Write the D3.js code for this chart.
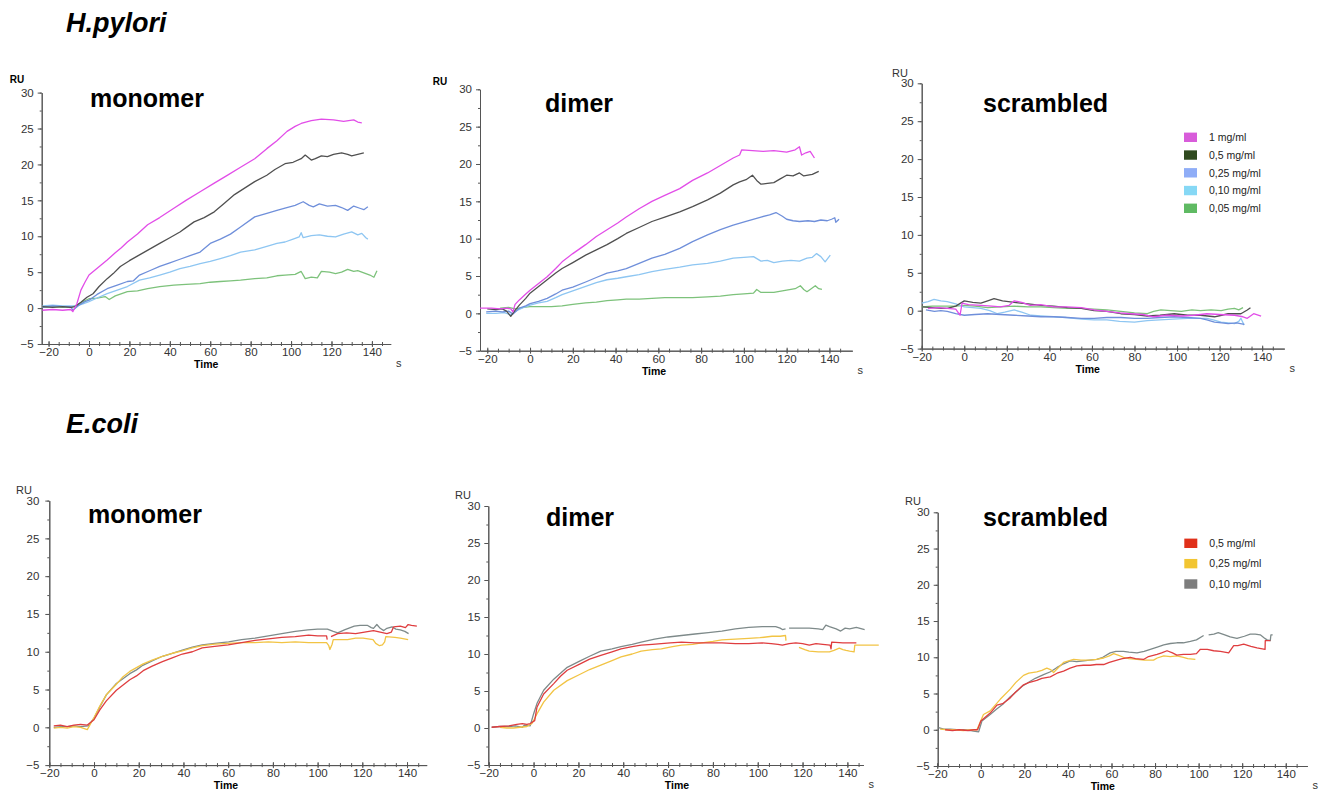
<!DOCTYPE html>
<html>
<head>
<meta charset="utf-8">
<script src="https://cdn.jsdelivr.net/npm/d3@7"></script>
<style>
  body { margin: 0; background: #fff; }
  svg { display: block; font-family: "Liberation Sans", Arial, sans-serif; }
  .axis path, .axis line { stroke: #555; }
  .axis text { fill: #333; font-size: 11.5px; font-family: "Liberation Sans", Arial, sans-serif; }
  .curve { fill: none; stroke-width: 1.3; stroke-linejoin: round; }
</style>
</head>
<body>
<svg width="1323" height="793"></svg>
<script>
/* SPR sensorgrams, RU vs time (s) */

// H.pylori concentrations
const hpLabels = ['1 mg/ml', '0,5 mg/ml', '0,25 mg/ml', '0,10 mg/ml', '0,05 mg/ml'];
// E.coli concentrations
const ecLabels = ['0,5 mg/ml', '0,25 mg/ml', '0,10 mg/ml'];

const xMajor = [-20, 0, 20, 40, 60, 80, 100, 120, 140];
const yMajor = [-5, 0, 5, 10, 15, 20, 25, 30];

// ---- H.pylori monomer ----
const hpMono1 = [[-23,-0.3],[-18,-0.2],[-13,-0.3],[-9,-0.2],[-8,-0.5],[-6,0.6],[-4,2.5],[-2,3.6],[0,4.6],[3,5.3],[6,6.0],[9,6.7],[13,7.7],[16,8.4],[19,9.2],[24,10.3],[29,11.6],[35,12.6],[42,13.9],[48,15.0],[55,16.2],[62,17.4],[68,18.4],[75,19.6],[82,20.8],[88,22.2],[93,23.3],[98,24.6],[102,25.3],[105,25.7],[110,26.1],[115,26.3],[121,26.2],[126,26.0],[131,26.2],[133,25.9],[135,25.8]];
const hpMono05 = [[-23,0.2],[-18,0.1],[-13,0.2],[-9,0.1],[-7,0.2],[-4,0.8],[-1,1.5],[2,2.0],[5,3.0],[9,4.1],[12,4.8],[15.5,5.8],[20,6.6],[25,7.4],[30,8.2],[35,9.0],[40,9.8],[45,10.6],[48,11.2],[52,12.0],[57,12.6],[62,13.4],[67,14.6],[72,15.8],[77,16.7],[82,17.6],[88,18.5],[92,19.3],[97,20.1],[101,20.3],[105,20.8],[107,21.3],[110,20.6],[112,20.8],[115,21.2],[118,21.1],[121,21.4],[125,21.6],[128,21.4],[130,21.2],[133,21.4],[136,21.6]];
const hpMono025 = [[-23,0.1],[-18,0.3],[-13,0.2],[-9,0.2],[-8,-0.3],[-5,0.4],[-2,0.9],[0,1.1],[4,1.9],[9,2.7],[14,3.2],[19,3.7],[22,3.8],[25,4.6],[30,5.2],[35,5.8],[40,6.3],[45,6.8],[50,7.3],[55,7.8],[60,9.0],[65,9.6],[70,10.3],[75,11.3],[82,12.7],[88,13.2],[93,13.6],[97,13.9],[102,14.3],[106,14.8],[109,14.3],[111,14.1],[114,14.5],[118,14.2],[122,14.3],[125,14.0],[128,13.6],[131,14.2],[134,13.9],[136,13.7],[138,14.1]];
const hpMono010 = [[-23,0.3],[-18,0.4],[-13,0.3],[-9,0.3],[-6,0.3],[-3,0.6],[0,0.9],[4,1.4],[9,2.0],[14,2.5],[19,3.0],[25,3.9],[30,4.2],[35,4.6],[40,5.0],[45,5.5],[50,5.8],[55,6.2],[60,6.5],[65,6.9],[70,7.3],[75,7.8],[82,8.1],[88,8.6],[93,9.0],[97,9.2],[101,9.6],[104,9.9],[105,10.5],[106,9.8],[110,10.1],[114,10.2],[118,10.0],[122,9.9],[126,10.3],[130,10.6],[133,10.2],[135,10.4],[137,9.8],[138,9.6]];
const hpMono005 = [[-23,0.1],[-18,0.2],[-13,0.1],[-9,0.1],[-6,0.4],[-3,0.9],[0,1.3],[4,1.4],[8,1.6],[10,1.2],[13,1.7],[19,2.3],[24,2.4],[29,2.7],[35,3.0],[42,3.2],[48,3.3],[55,3.4],[60,3.6],[65,3.7],[70,3.8],[75,3.9],[82,4.1],[88,4.2],[93,4.5],[97,4.6],[102,4.7],[105,5.1],[107,4.1],[110,4.3],[113,4.2],[115,5.1],[119,5.0],[122,4.8],[125,5.0],[128,5.4],[131,5.1],[133,5.2],[136,4.9],[139,4.6],[141,4.3],[142.5,5.2]];

// ---- H.pylori dimer ----
const hpDim1 = [[-23.4,0.7],[-18,0.7],[-14,0.6],[-11,0.7],[-9,0.6],[-8,0.2],[-7,1.2],[-5,1.8],[-2,2.6],[0,3.1],[4,4.0],[8,4.9],[12,6.0],[15,6.9],[20,8.0],[26,9.2],[31,10.3],[36,11.2],[41,12.1],[45,12.9],[51,14.0],[57,15.0],[63,15.8],[70,16.7],[76,17.8],[83,18.8],[89,19.8],[95,20.8],[98,21.2],[99,21.9],[104,21.8],[109,21.7],[114,21.8],[120,21.6],[124,21.9],[126,22.3],[127,21.2],[129,21.5],[131,21.7],[133,20.8]];
const hpDim05 = [[-20,0.6],[-16,0.5],[-13,0.6],[-11,0.3],[-9,-0.4],[-7,0.4],[-5,1.1],[-2,2.0],[0,2.7],[4,3.6],[8,4.5],[12,5.4],[15,6.0],[20,6.8],[26,7.8],[31,8.5],[36,9.2],[41,10.0],[45,10.7],[51,11.5],[57,12.3],[63,12.9],[70,13.6],[76,14.3],[83,15.2],[89,16.1],[95,17.2],[98,17.6],[101,17.9],[104,18.5],[106,17.8],[108,17.3],[111,17.4],[114,17.5],[117,18.0],[120,18.5],[123,18.4],[126,18.8],[128,18.4],[130,18.5],[132,18.6],[135,19.0]];
const hpDim025 = [[-20.5,0.2],[-16,0.3],[-13,0.2],[-10,0.3],[-8,-0.1],[-5,0.7],[-2,1.0],[0,1.3],[4,1.6],[8,2.0],[12,2.6],[15,3.1],[20,3.5],[26,4.2],[31,4.8],[36,5.4],[41,5.7],[45,6.0],[51,6.7],[57,7.4],[63,7.9],[70,8.7],[76,9.6],[83,10.5],[89,11.2],[95,11.8],[101,12.3],[108,12.9],[112,13.2],[115,13.5],[118,13.0],[120,12.6],[123,12.4],[126,12.3],[130,12.4],[133,12.3],[136,12.5],[139,12.4],[141,12.6],[142.5,12.8],[143,12.2],[144.5,12.6]];
const hpDim010 = [[-20.5,0.0],[-16,0.0],[-12,0.1],[-9,-0.2],[-6,0.4],[-3,0.8],[0,1.1],[4,1.4],[8,1.6],[12,2.1],[15,2.5],[20,3.0],[26,3.6],[31,4.1],[36,4.5],[41,4.7],[45,4.9],[51,5.2],[57,5.6],[63,5.9],[70,6.2],[76,6.5],[83,6.7],[89,7.0],[95,7.4],[100,7.5],[104.5,7.6],[108,7.0],[111,7.1],[114,6.8],[118,7.0],[122,7.1],[126,7.0],[129.5,7.4],[132,7.5],[134,8.0],[136,7.6],[138,6.9],[140.4,7.8]];
const hpDim005 = [[-14,0.7],[-10,0.8],[-7,0.6],[-3,0.8],[0,0.9],[5,0.9],[10,0.9],[15,1.0],[20,1.2],[26,1.4],[31,1.5],[36,1.7],[41,1.8],[45,1.9],[51,1.9],[57,2.0],[63,2.1],[70,2.1],[76,2.1],[83,2.2],[89,2.3],[95,2.5],[100,2.6],[104.5,2.7],[106,3.2],[108,2.8],[114,2.8],[120,3.1],[124,3.3],[126.4,3.7],[128,3.2],[129.5,2.9],[131,3.2],[133.4,3.7],[135,3.3],[136.5,3.2]];

// ---- H.pylori scrambled ----
const hpScr1 = [[-17,0.3],[-12,0.4],[-8,0.3],[-4,0.2],[-2,-0.6],[-1,1.0],[2,0.8],[7.8,0.7],[13,0.6],[17,0.5],[21,0.7],[23.5,1.3],[27,1.1],[31,0.7],[36,0.8],[42,0.5],[48,0.5],[55,0.4],[61,0.1],[67,-0.1],[73,-0.3],[78,-0.4],[84,-0.5],[89,-0.8],[95,-0.6],[102,-0.7],[108,-0.6],[114,-0.4],[120,-0.5],[127,-0.6],[131,-0.8],[133,-1.0],[136,-0.4],[139.5,-0.7]];
const hpScr05 = [[-19.7,0.5],[-15,0.4],[-11,0.3],[-8,0.3],[-4,0.6],[0,1.3],[4,1.1],[7.8,1.0],[11,1.3],[14,1.6],[18,1.3],[23.5,1.1],[30,0.9],[36,0.7],[42,0.6],[48.5,0.4],[55,0.3],[61,0.0],[67,-0.1],[73.6,-0.4],[80,-0.5],[86,-0.7],[92,-0.6],[98.7,-0.4],[105,-0.6],[111,-0.6],[117.6,-0.8],[121,-0.6],[124,-0.4],[130,-0.4],[133,0.1],[134.5,0.4]];
const hpScr025 = [[-18,0.1],[-14,-0.1],[-11,0.0],[-8,-0.1],[-4,-0.4],[0,-0.6],[5,-0.5],[11,-0.4],[17,-0.5],[23.5,-0.6],[30,-0.7],[36,-0.8],[42,-0.8],[48.5,-0.9],[55,-1.0],[61,-1.0],[67,-0.9],[73.6,-0.9],[80,-1.0],[86,-1.0],[92,-0.9],[98.7,-0.8],[105,-0.9],[111,-1.0],[114,-1.2],[117.6,-1.5],[121,-1.6],[124,-1.7],[128,-1.6],[131.6,-1.8]];
const hpScr010 = [[-20,1.0],[-17,1.2],[-14.2,1.5],[-11,1.3],[-8,1.2],[-4,0.9],[0,0.5],[4,0.4],[7.8,0.3],[12,0.0],[15.6,-0.4],[19,-0.2],[23.5,0.1],[27,-0.2],[31.3,-0.6],[36,-0.7],[42,-0.8],[48,-0.9],[55,-1.1],[61,-1.2],[67,-1.2],[73,-1.4],[80,-1.5],[86,-1.3],[92,-1.2],[98,-1.1],[105,-1.0],[110,-1.0],[114,-1.0],[117,-1.2],[120.7,-1.5],[124,-1.6],[127,-1.7],[129,-1.4],[130,-1.0],[131.5,-1.9]];
const hpScr005 = [[-20,0.5],[-15,0.6],[-8,0.6],[-4,0.6],[0,0.7],[5,0.6],[11,0.4],[17,0.5],[23.5,0.6],[30,0.5],[36,0.5],[42,0.4],[48.5,0.3],[55,0.3],[61,0.2],[67,0.1],[73.6,-0.1],[80,-0.3],[86,-0.4],[89,-0.1],[92.4,0.1],[97,0.0],[102,-0.1],[107,0.1],[111,0.0],[116,0.1],[120.7,0.0],[124,0.2],[127,0.3],[129,0.1],[131,0.4]];

// ---- E.coli monomer ----
const ecMono05 = [[-18,0.2],[-15,0.3],[-12,0.1],[-9,0.3],[-6,0.4],[-3,0.3],[0,1.0],[2.6,2.3],[5.5,3.5],[10,4.9],[16,6.3],[19,6.8],[22,7.5],[26,8.1],[30.6,8.7],[35,9.2],[39.5,9.7],[44,10.0],[48.4,10.5],[54,10.7],[60,10.9],[66,11.2],[72,11.5],[78,11.7],[84,11.9],[90,12.0],[96,12.2],[100,12.1],[104,12.1],[104.3,11.6],null,[106,12.0],[109,12.4],[113,12.5],[117,12.4],[121,12.6],[125,12.8],[128,12.6],[131,12.4],[133,12.6],[134,13.3],[137,13.4],[139.3,13.2],[140.5,13.6],[142,13.5],[144.4,13.4]];
const ecMono025 = [[-18,-0.1],[-15,0.0],[-12,-0.1],[-9,0.1],[-6,0.0],[-3,-0.3],[0,1.3],[2.6,2.8],[5.5,4.3],[10,5.7],[13,6.7],[16,7.4],[22,8.4],[26,8.9],[30.6,9.4],[35,9.8],[39.5,10.1],[44,10.5],[48.4,10.8],[54,11.0],[60,11.1],[66,11.2],[72,11.2],[78,11.3],[84,11.2],[90,11.3],[96,11.2],[100,11.2],[104,11.2],[105,10.8],[105.5,10.3],[106.5,11.0],[107,11.6],[113.4,11.6],[117,11.8],[120.3,11.8],[124.8,11.6],[126,11.1],[127.7,10.8],[129,10.9],[130,11.3],[130.5,12.0],[134.6,11.9],[137,11.8],[140.5,11.6]];
const ecMono010 = [[-18,0.0],[-15,0.1],[-12,0.1],[-9,0.2],[-6,0.1],[-2.6,0.2],[0,1.2],[2.6,2.7],[5.5,4.3],[10,5.8],[16,7.1],[19,7.6],[21.8,8.2],[26,8.8],[30.6,9.4],[35,9.8],[39.5,10.2],[44,10.6],[48.4,10.9],[54,11.1],[60.2,11.3],[66,11.6],[72,11.8],[78,12.1],[84,12.4],[90,12.7],[95.6,12.9],[100,13.0],[104.4,13.0],[107,12.7],[109,12.5],[112,12.9],[116.4,13.4],[119,13.5],[122.2,13.5],[124,13.2],[125,13.1],[126.5,13.6],[128,13.1],[129.6,12.8],[131,13.1],[133.3,13.3],[135,13.0],[137,12.9],[139,12.7],[140.7,12.4]];

// ---- E.coli dimer ----
const ecDim05 = [[-18.7,0.1],[-15,0.2],[-11,0.3],[-7.5,0.5],[-5,0.6],[-3,0.5],[-1.5,0.6],[0.5,1.0],[1.5,2.8],[4.5,4.6],[9,6.0],[12,7.0],[15,7.8],[21,8.7],[25,9.3],[30,9.8],[35,10.3],[39,10.7],[44,11.0],[48,11.2],[53,11.3],[57,11.4],[61,11.5],[66,11.6],[72,11.5],[78,11.5],[84,11.5],[90,11.4],[96,11.4],[102,11.5],[106,11.4],[109,11.3],[111,11.2],[114,11.4],[117,11.5],[120,11.4],[123,11.2],[126,11.4],[129,11.3],[132.3,11.2],[132.7,10.7],[133,11.6],[138,11.5],[144,11.5]];
const ecDim025 = [[-15,0.1],[-12,0.0],[-9,0.0],[-6,0.1],[-3,0.2],[-0.7,0.6],[1.5,1.9],[4.5,3.5],[9,5.1],[15,6.4],[21,7.3],[25,7.9],[30,8.5],[35,9.1],[39,9.6],[44,10.0],[48,10.4],[53,10.6],[57,10.7],[62,11.0],[66,11.2],[71,11.3],[75,11.5],[80,11.7],[84,11.9],[90,12.0],[96,12.1],[101,12.2],[106.4,12.4],[110,12.4],[112.4,12.5],[112.6,11.8],null,[118.4,10.9],[121,10.6],[123,10.4],[127,10.3],[132,10.3],[134,10.5],[136.4,10.8],[138,10.6],[139.4,10.5],[141,10.4],[143,10.3],[143.3,11.2],[148.4,11.2],[154,11.2]];
const ecDim010 = [[-18.7,0.1],[-15,0.2],[-11,0.2],[-8,0.3],[-5,0.1],[-4,0.4],[-1.5,0.3],[0,1.9],[1.5,3.3],[4.5,5.1],[9,6.6],[12,7.4],[15,8.2],[21,9.1],[25,9.7],[30,10.4],[35,10.7],[39,11.0],[44,11.3],[48,11.6],[54,12.0],[60,12.3],[66,12.5],[72,12.7],[78,12.9],[84,13.1],[90,13.4],[96,13.6],[102,13.7],[108,13.7],[110,13.5],[111,13.3],[112.4,13.4],null,[114,13.5],[118,13.5],[123,13.5],[127,13.4],[129,13.3],[130.4,13.9],[132,13.7],[135,13.4],[137,13.1],[139,13.5],[141,13.4],[144,13.6],[147.7,13.3]];

// ---- E.coli scrambled ----
const ecScr05 = [[-16.4,0.0],[-13,-0.1],[-10,0.0],[-6,-0.1],[-3,0.0],[-1.5,0.0],[0,1.2],[4.3,2.3],[7.4,3.4],[10,3.6],[13.5,4.4],[16,5.2],[19.6,6.2],[22,6.5],[25.7,6.8],[28,7.1],[31.9,7.3],[35,7.8],[38,8.1],[41,8.5],[44.1,8.8],[47,8.9],[50.2,8.9],[53,9.0],[56.4,9.0],[59,9.3],[62.5,9.6],[65,9.8],[68.6,10.0],[71,9.8],[74.7,9.7],[77,10.1],[80.9,10.4],[83,10.6],[85.5,10.9],[88,10.6],[90,10.3],[93,10.4],[96.2,10.4],[99,10.5],[100.8,11.1],[104,11.1],[106.9,10.9],[110,10.8],[113.8,10.6],[116.1,11.6],[118,11.6],[120.7,11.8],[124,11.5],[126.8,11.3],[130.5,11.1],[130.6,12.3],[132.9,12.3]];
const ecScr025 = [[-18.7,0.1],[-15,0.0],[-12,0.0],[-8,-0.1],[-4,0.0],[-1.8,0.0],[-0.5,0.9],[1.2,2.1],[4.3,2.6],[8.9,4.2],[13.5,5.6],[16,6.5],[19.6,7.5],[22,7.8],[25.7,8.0],[28,8.2],[30.3,8.5],[32,8.3],[33.4,7.9],[36,8.7],[38,9.3],[42.6,9.7],[46,9.6],[50.2,9.6],[53,9.7],[56.4,9.9],[59,10.2],[61,10.5],[63,10.3],[65.5,10.0],[68,9.8],[71.7,9.7],[75,9.6],[79.3,9.6],[81,9.9],[84,10.2],[87,10.1],[90,10.2],[93,10.0],[95,9.8],[98.5,9.7]];
const ecScr010 = [[-19.4,0.3],[-17,0.1],[-14,0.1],[-11,0.0],[-8,0.0],[-5,-0.1],[-3.4,-0.2],[-1,-0.3],[0.5,1.2],[4.3,2.1],[7,2.8],[10.4,3.6],[13,4.4],[16.5,5.3],[19,6.0],[22.7,6.7],[25,7.1],[28.8,7.6],[32,8.0],[35,8.6],[38,9.1],[41,9.5],[44,9.4],[47.2,9.5],[50,9.6],[53.3,9.7],[56,10.0],[59.4,10.6],[62,10.8],[65.5,10.8],[68,10.7],[71.7,10.6],[75,10.8],[77.8,11.1],[81,11.4],[84,11.7],[87,11.9],[90,12.0],[93,12.0],[96.2,12.2],[99,12.4],[102.3,13.0],null,[104.6,13.1],[107,13.2],[109,13.4],[112,13.1],[114.5,12.8],[117.6,12.6],[121,12.9],[123.7,13.2],[126,13.2],[128.3,13.1],[130,12.7],[131.4,12.4],[132.9,12.3],[133.2,13.1],[134,13.1]];

// colours: line colour and legend-key colour per concentration
const hpLineColors = ['#e24de8', '#505050', '#6f8fda', '#8ec6f2', '#7dc27b'];
const hpKeyColors  = ['#d85cda', '#2f4a1f', '#8fadf7', '#86d8f5', '#5fba63'];
const ecLineColors = ['#df3d3f', '#f2c444', '#7e8a8a'];
const ecKeyColors  = ['#e0301a', '#f2c531', '#7d7d7d'];

// panel layout (pixels) + which series go in
const panels = [
  {title: 'monomer',   tx: 90,  ty: 107, left: 41.7,  right: 390.7,  top: 92.6,  bottom: 344,   xMin: -23.4, xMax: 149.3, ru: [17, 83],   ruBold: true,  timeAt: 58, showS: true,
   series: [hpMono1, hpMono05, hpMono025, hpMono010, hpMono005], colors: hpLineColors},
  {title: 'dimer',     tx: 545, ty: 112, left: 480,   right: 852.3,  top: 89.3,  bottom: 350.7, xMin: -23.4, xMax: 150.7, ru: [440, 85],  ruBold: true,  timeAt: 58, showS: true,
   series: [hpDim1, hpDim05, hpDim025, hpDim010, hpDim005], colors: hpLineColors},
  {title: 'scrambled', tx: 983, ty: 112, left: 921.7, right: 1284.3, top: 83.3,  bottom: 348.6, xMin: -20,   xMax: 150.4, ru: [900, 77],  ruBold: false, timeAt: 58, showS: true,
   series: [hpScr1, hpScr05, hpScr025, hpScr010, hpScr005], colors: hpLineColors,
   legend: {labels: hpLabels, colors: hpKeyColors, x: 1184, y: 137.3, step: 17.75}},
  {title: 'monomer',   tx: 88,  ty: 523, left: 49.3,  right: 426.7,  top: 500.6, bottom: 765.1, xMin: -20,   xMax: 148.8, ru: [24, 494],  ruBold: false, timeAt: 59, showS: false, yPad: 6,
   series: [ecMono05, ecMono025, ecMono010], colors: ecLineColors},
  {title: 'dimer',     tx: 546, ty: 526, left: 488.3, right: 863.3,  top: 506,   bottom: 765,   xMin: -20.2, xMax: 147.1, ru: [463, 499], ruBold: false, timeAt: 64, showS: true,
   series: [ecDim05, ecDim025, ecDim010], colors: ecLineColors},
  {title: 'scrambled', tx: 983, ty: 526, left: 937.7, right: 1307.3, top: 512.3, bottom: 766,   xMin: -19.8, xMax: 149.9, ru: [913, 505], ruBold: false, timeAt: 56, showS: true,
   series: [ecScr05, ecScr025, ecScr010], colors: ecLineColors,
   legend: {labels: ecLabels, colors: ecKeyColors, x: 1184.3, y: 543.3, step: 20.35}}
];

const svg = d3.select('svg');

// section headings
svg.append('text').attr('x', 66).attr('y', 32)
  .style('font-size', '27px').style('font-weight', 'bold').style('font-style', 'italic')
  .text('H.pylori');
svg.append('text').attr('x', 66).attr('y', 433)
  .style('font-size', '27px').style('font-weight', 'bold').style('font-style', 'italic')
  .text('E.coli');

panels.forEach(p => {
  const x = d3.scaleLinear().domain([p.xMin, p.xMax]).range([p.left, p.right]);
  const y = d3.scaleLinear().domain([-5, 30]).range([p.bottom, p.top]);
  const g = svg.append('g').attr('class', 'panel');

  const xMinor = d3.range(-20, 150, 5).filter(v => v >= p.xMin - 0.5 && v <= p.xMax + 0.5);
  const yMinor = d3.range(-5, 30.1, 2.5);

  // y axis: minor then major
  g.append('g').attr('class', 'axis').attr('transform', `translate(${p.left},0)`)
    .call(d3.axisLeft(y).tickValues(yMinor).tickSize(2).tickSizeOuter(0).tickFormat(''));
  g.append('g').attr('class', 'axis').attr('transform', `translate(${p.left},0)`)
    .call(d3.axisLeft(y).tickValues(yMajor).tickSize(4).tickSizeOuter(0).tickPadding(p.yPad || 4));

  // x axis at -5, ticks crossing the line
  g.append('g').attr('class', 'axis').attr('transform', `translate(0,${p.bottom})`)
    .call(d3.axisBottom(x).tickValues(xMinor).tickSize(2).tickSizeOuter(0).tickFormat(''))
    .selectAll('.tick line').attr('y1', -2);
  const xa = g.append('g').attr('class', 'axis').attr('transform', `translate(0,${p.bottom})`)
    .call(d3.axisBottom(x).tickValues(xMajor).tickSize(3).tickSizeOuter(0).tickPadding(1));
  xa.selectAll('.tick line').attr('y1', -3);

  // axis captions
  g.append('text').attr('x', x(p.timeAt)).attr('y', p.bottom + 24)
    .attr('text-anchor', 'middle').style('font-size', '10.5px').style('font-weight', 'bold')
    .text('Time');
  if (p.showS) {
    g.append('text').attr('x', p.right + 8).attr('y', p.bottom + 23)
      .attr('text-anchor', 'middle').style('font-size', '11px').attr('fill', '#333')
      .text('s');
  }
  g.append('text').attr('x', p.ru[0]).attr('y', p.ru[1])
    .attr('text-anchor', 'middle').style('font-size', p.ruBold ? '10px' : '11px')
    .style('font-weight', p.ruBold ? 'bold' : 'normal').attr('fill', p.ruBold ? '#000' : '#333')
    .text('RU');

  // curves, drawn last-to-first so the top concentration sits on top
  const line = d3.line()
    .defined(d => d !== null)
    .x(d => x(d[0]))
    .y(d => y(d[1]));
  g.append('g').selectAll('path')
    .data(p.series.map((s, i) => ({s, c: p.colors[i]})).reverse())
    .enter()
    .append('path')
    .attr('class', 'curve')
    .attr('stroke', d => d.c)
    .attr('d', d => line(d.s));

  // panel title
  g.append('text').attr('x', p.tx).attr('y', p.ty)
    .style('font-size', '25px').style('font-weight', 'bold')
    .text(p.title);

  // legend
  if (p.legend) {
    const lg = g.append('g').selectAll('g')
      .data(p.legend.labels)
      .enter()
      .append('g')
      .attr('transform', (d, i) => `translate(${p.legend.x},${p.legend.y + i * p.legend.step})`);
    lg.append('rect')
      .attr('x', 0).attr('y', -4.7).attr('width', 13).attr('height', 9.4)
      .attr('fill', (d, i) => p.legend.colors[i]);
    lg.append('text')
      .attr('x', 25).attr('y', 3.8)
      .style('font-size', '10.5px').attr('fill', '#222')
      .text(d => d);
  }
});
</script>
</body>
</html>
